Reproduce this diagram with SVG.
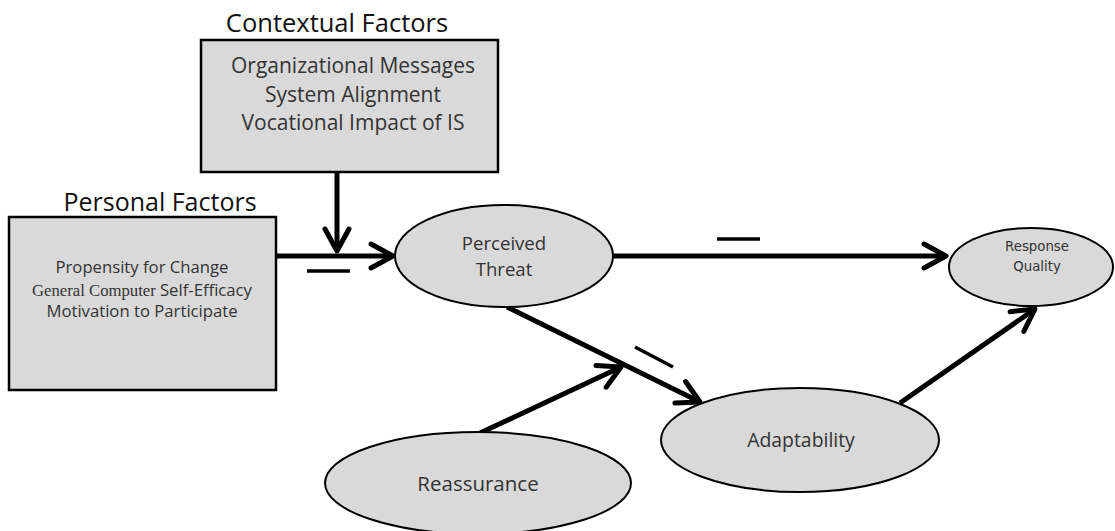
<svg xmlns="http://www.w3.org/2000/svg" width="1115" height="531" viewBox="0 0 1115 531">
  <style>
    .box { fill: #d9d9d9; stroke: #000; stroke-width: 2.5; }
    .oval { fill: #d9d9d9; stroke: #000; stroke-width: 2; }
    .title { font-family: "Open Sans", "Liberation Sans", sans-serif; fill: #111; text-anchor: middle; }
    .lbl { font-family: "Open Sans", "Liberation Sans", sans-serif; fill: #333; text-anchor: middle; }
    .serif { font-family: "Liberation Serif", serif; }
    .small { font-family: "DejaVu Sans", sans-serif; }
    .link { stroke: #000; stroke-width: 5; fill: none; stroke-linecap: butt; }
    .sign { stroke: #000; stroke-width: 3.5; fill: none; }
  </style>
  <defs>
    <marker id="chev" markerUnits="userSpaceOnUse" markerWidth="40" markerHeight="40" refX="0" refY="0" orient="auto" overflow="visible">
      <path d="M-22,-12 L0,0 L-22,12" fill="none" stroke="#000" stroke-width="5" stroke-linecap="round" stroke-linejoin="round"/>
    </marker>
  </defs>

  <!-- connectors -->
  <g id="connectors">
    <line class="link" x1="276" y1="256" x2="393" y2="256" marker-end="url(#chev)"/>
    <line class="link" x1="337" y1="172" x2="337" y2="251" marker-end="url(#chev)"/>
    <line class="link" x1="613" y1="256" x2="946" y2="256" marker-end="url(#chev)"/>
    <line class="link" x1="507" y1="307" x2="700" y2="402" marker-end="url(#chev)"/>
    <line class="link" x1="480" y1="433" x2="621" y2="367" marker-end="url(#chev)"/>
    <line class="link" x1="900" y1="403" x2="1035" y2="309" marker-end="url(#chev)"/>
    <!-- sign marks -->
    <line class="sign" x1="307" y1="271" x2="350" y2="271"/>
    <line class="sign" x1="717" y1="239" x2="760" y2="239"/>
    <line class="sign" x1="635" y1="347" x2="673" y2="367"/>
  </g>

  <g id="contextual-factors">
    <text class="title" font-size="25.5" x="337" y="32">Contextual Factors</text>
    <rect class="box" x="201" y="40" width="297" height="132"/>
    <text class="lbl" font-size="21" x="353" y="73">Organizational Messages</text>
    <text class="lbl" font-size="21" x="353" y="102">System Alignment</text>
    <text class="lbl" font-size="21" x="353" y="130">Vocational Impact of IS</text>
  </g>

  <g id="personal-factors">
    <text class="title" font-size="25" x="160" y="211">Personal Factors</text>
    <rect class="box" x="9" y="217" width="267" height="173"/>
    <text class="lbl" font-size="16.7" x="142" y="273">Propensity for Change</text>
    <text class="lbl" font-size="16.7" x="142" y="296"><tspan class="serif">General Computer </tspan>Self-Efficacy</text>
    <text class="lbl" font-size="16.7" x="142" y="317">Motivation to Participate</text>
  </g>

  <g id="perceived-threat">
    <ellipse class="oval" cx="504" cy="256" rx="109" ry="51"/>
    <text class="lbl" font-size="18.6" x="504" y="250">Perceived</text>
    <text class="lbl" font-size="18.6" x="504" y="276">Threat</text>
  </g>

  <g id="response-quality">
    <ellipse class="oval" cx="1031" cy="267" rx="82" ry="39"/>
    <text class="lbl small" font-size="13.3" x="1037" y="251">Response</text>
    <text class="lbl small" font-size="13.3" x="1037" y="271">Quality</text>
  </g>

  <g id="adaptability">
    <ellipse class="oval" cx="800" cy="440" rx="139" ry="52"/>
    <text class="lbl" font-size="19.4" x="801" y="447">Adaptability</text>
  </g>

  <g id="reassurance">
    <ellipse class="oval" cx="478" cy="483" rx="153" ry="51"/>
    <text class="lbl" font-size="20.5" x="478" y="491">Reassurance</text>
  </g>
</svg>
